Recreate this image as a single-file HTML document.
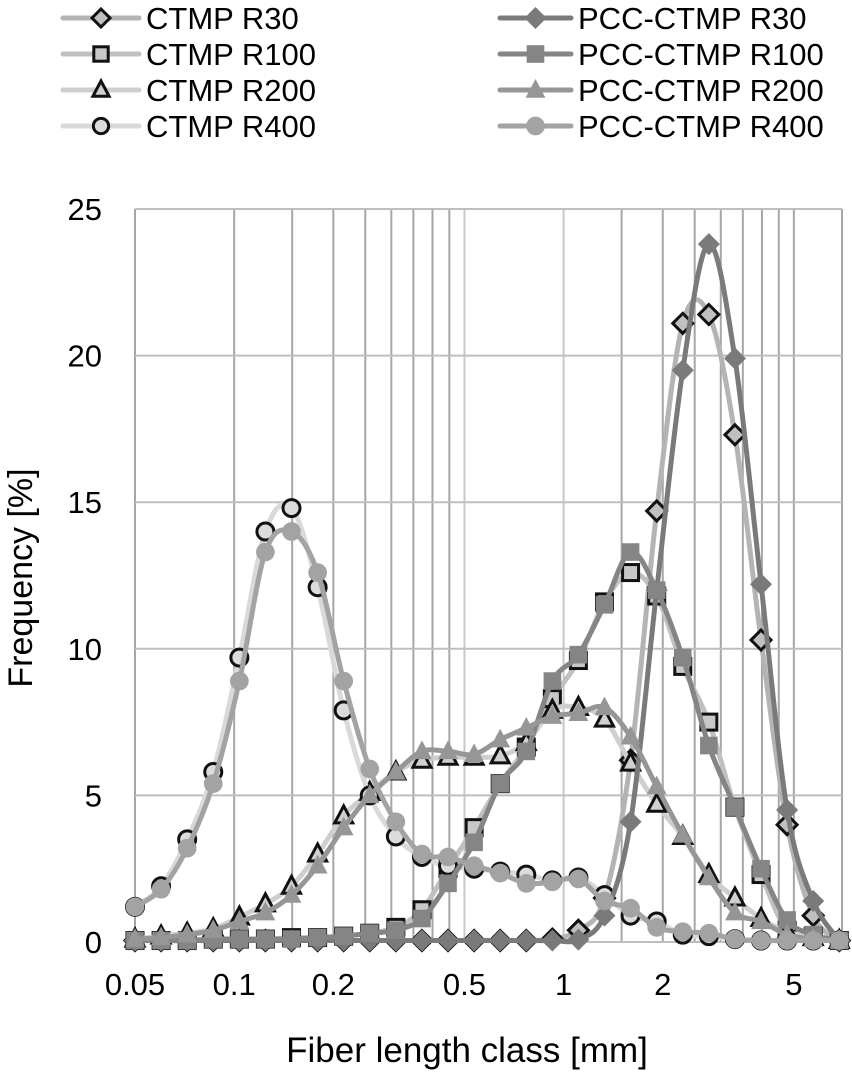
<!DOCTYPE html>
<html><head><meta charset="utf-8"><style>
html,body{margin:0;padding:0;background:#fff;}
svg{display:block;font-family:"Liberation Sans",Arial,sans-serif;}
</style></head><body>
<svg id="chart" width="852" height="1078" viewBox="0 0 852 1078">
<g id="grid"></g>
<g id="series"></g>
<g id="axes"></g>
<g id="legend"></g>
</svg>
<script>
const categories=[0.05,0.06,0.072,0.0864,0.1037,0.1244,0.1493,0.1792,0.215,0.258,0.3096,0.3715,0.4458,0.535,0.642,0.7704,0.9245,1.109,1.331,1.597,1.917,2.3,2.76,3.312,3.975,4.77,5.724,6.868];
const ctmpR30=[0.05,0.05,0.05,0.05,0.05,0.05,0.05,0.05,0.05,0.05,0.05,0.05,0.05,0.05,0.05,0.05,0.1,0.4,1.5,6.2,14.7,21.1,21.4,17.3,10.3,4.0,0.9,0.05];
const pccR30=[0.05,0.05,0.05,0.05,0.05,0.05,0.05,0.05,0.05,0.05,0.05,0.05,0.05,0.05,0.05,0.05,0.05,0.08,0.9,4.1,12.0,19.5,23.8,19.9,12.2,4.5,1.4,0.05];
const ctmpR100=[0.05,0.05,0.05,0.1,0.1,0.1,0.15,0.15,0.2,0.3,0.5,1.1,2.5,3.9,5.4,6.65,8.3,9.6,11.6,12.6,11.8,9.4,7.5,4.6,2.3,0.4,0.2,0.05];
const pccR100=[0.05,0.05,0.05,0.1,0.1,0.1,0.1,0.15,0.2,0.3,0.4,0.8,2.0,3.4,5.4,6.5,8.9,9.8,11.5,13.3,12.0,9.7,6.7,4.6,2.5,0.75,0.25,0.05];
const ctmpR200=[0.1,0.2,0.3,0.45,0.85,1.3,1.9,3.0,4.3,5.1,5.8,6.2,6.3,6.3,6.35,6.8,7.9,8.0,7.6,6.1,4.7,3.6,2.3,1.5,0.8,0.35,0.15,0.05];
const pccR200=[0.1,0.15,0.25,0.4,0.7,1.0,1.6,2.6,3.9,5.0,5.8,6.5,6.5,6.4,6.9,7.3,7.7,7.8,8.0,7.0,5.3,3.65,2.2,1.0,0.7,0.25,0.1,0.05];
const ctmpR400=[1.2,1.9,3.5,5.8,9.7,14.0,14.8,12.1,7.9,5.0,3.6,2.9,2.6,2.5,2.4,2.3,2.1,2.2,1.6,0.9,0.7,0.25,0.2,0.1,0.05,0.05,0.05,0.05];
const pccR400=[1.2,1.8,3.2,5.4,8.9,13.3,14.0,12.6,8.9,5.9,4.1,3.0,2.9,2.6,2.35,2.0,2.05,2.15,1.4,1.15,0.5,0.35,0.3,0.1,0.05,0.05,0.05,0.05];
const yTicks=[0,5,10,15,20,25];
const xTickLabels=[0.05,0.1,0.2,0.5,1,2,5];
const xGridValues=[0.05,0.1,0.15,0.2,0.25,0.3,0.35,0.4,0.45,0.5,1,1.5,2,2.5,3,3.5,4,4.5,5,7];
const seriesNames=["CTMP R30","CTMP R100","CTMP R200","CTMP R400","PCC-CTMP R30","PCC-CTMP R100","PCC-CTMP R200","PCC-CTMP R400"];

const NS="http://www.w3.org/2000/svg";
const L=135,R=842,T=209,B=942,XMIN=0.05,XMAX=7,YMAX=25;
function xs(v){return L+(R-L)*Math.log10(v/XMIN)/Math.log10(XMAX/XMIN);}
function ys(v){return B-(B-T)*v/YMAX;}
function mk(tag,attrs,parent){const e=document.createElementNS(NS,tag);for(const k in attrs)e.setAttribute(k,attrs[k]);parent.appendChild(e);return e;}

const grid=document.getElementById('grid');
xGridValues.forEach(v=>{
  const l=mk('line',{x1:xs(v),x2:xs(v),y1:T,y2:B,stroke:(v===0.5||v===1)?'#c8c8c8':'#a6a6a6','stroke-width':2},grid);
  
  
});
yTicks.forEach(v=>{
  const l=mk('line',{x1:L,x2:R,y1:ys(v),y2:ys(v),stroke:'#bfbfbf','stroke-width':2},grid);
  
  
});

const axes=document.getElementById('axes');
yTicks.forEach(v=>{
  const t=mk('text',{x:102,y:ys(v)+11,'text-anchor':'end','font-size':31,fill:'#000'},axes);
  t.textContent=v;
  
  
});
xTickLabels.forEach(v=>{
  const t=mk('text',{x:xs(v),y:995,'text-anchor':'middle','font-size':31,fill:'#000'},axes);
  t.textContent=v;
  
  
});
const xt=mk('text',{x:467,y:1062,'text-anchor':'middle','font-size':35,fill:'#000'},axes);
xt.textContent='Fiber length class [mm]';


const yt=mk('text',{x:0,y:0,'text-anchor':'middle','font-size':34,fill:'#000',transform:'translate(32,578) rotate(-90)'},axes);
yt.textContent='Frequency [%]';



function smoothPath(pts){
  let d='M'+pts[0][0]+','+pts[0][1];
  for(let i=0;i<pts.length-1;i++){
    const p0=pts[Math.max(0,i-1)],p1=pts[i],p2=pts[i+1],p3=pts[Math.min(pts.length-1,i+2)];
    const t=1/6;
    const c1=[p1[0]+(p2[0]-p0[0])*t,p1[1]+(p2[1]-p0[1])*t];
    const c2=[p2[0]-(p3[0]-p1[0])*t,p2[1]-(p3[1]-p1[1])*t];
    d+=' C'+c1[0]+','+c1[1]+' '+c2[0]+','+c2[1]+' '+p2[0]+','+p2[1];
  }
  return d;
}
function marker(g,shape,x,y,fill,stroke,s){
  let e;
  const sw=stroke==='none'?0:3;
  if(shape==='diamond')e=mk('polygon',{points:`${x},${y-s} ${x+s},${y} ${x},${y+s} ${x-s},${y}`,fill,stroke,'stroke-width':sw},g);
  else if(shape==='square')e=mk('rect',{x:x-s*0.8,y:y-s*0.8,width:s*1.6,height:s*1.6,fill,stroke,'stroke-width':sw},g);
  else if(shape==='triangle')e=mk('polygon',{points:`${x},${y-s} ${x+s*0.9},${y+s*0.7} ${x-s*0.9},${y+s*0.7}`,fill,stroke,'stroke-width':sw},g);
  else e=mk('circle',{cx:x,cy:y,r:s*0.85,fill,stroke,'stroke-width':sw},g);
  return e;
}
const styles=[
 {data:ctmpR30,line:'#b4b4b4',shape:'diamond',fill:'#c0c0c0',stroke:'#111'},
 {data:ctmpR100,line:'#c0c0c0',shape:'square',fill:'#c8c8c8',stroke:'#111'},
 {data:ctmpR200,line:'#cfcfcf',shape:'triangle',fill:'#d0d0d0',stroke:'#111'},
 {data:ctmpR400,line:'#d9d9d9',shape:'circle',fill:'#dcdcdc',stroke:'#111'},
 {data:pccR30,line:'#7a7a7a',shape:'diamond',fill:'#7a7a7a',stroke:'none'},
 {data:pccR100,line:'#858585',shape:'square',fill:'#858585',stroke:'none'},
 {data:pccR200,line:'#969696',shape:'triangle',fill:'#969696',stroke:'none'},
 {data:pccR400,line:'#a3a3a3',shape:'circle',fill:'#a3a3a3',stroke:'none'}
];
const sg=document.getElementById('series');
styles.forEach((st,si)=>{
  const g=mk('g',{},sg);
  
  
  const pts=st.data.map((v,i)=>[xs(categories[i]),ys(v)]);
  const p=mk('path',{d:smoothPath(pts),fill:'none',stroke:st.line,'stroke-width':5,'stroke-linejoin':'round'},g);
  
  
  pts.forEach(pt=>{
    const m=marker(g,st.shape,pt[0],pt[1],st.fill,st.stroke,st.stroke==='none'?11:10);
    
    
  });
});

const lg=document.getElementById('legend');
styles.forEach((st,i)=>{
  const col=i<4?0:1,row=i%4;
  const lx=col===0?63:500,tx=col===0?146:578,yy=18+row*36;
  const g=mk('g',{},lg);
  
  
  mk('line',{x1:lx,x2:tx-7,y1:yy,y2:yy,stroke:st.line,'stroke-width':5,'stroke-linecap':'round'},g);
  marker(g,st.shape,(lx+tx-7)/2,yy,st.fill,st.stroke,st.stroke==='none'?11:9);
  const t=mk('text',{x:tx,y:yy+11,'font-size':31,fill:'#000'},g);
  t.textContent=seriesNames[i];
});
</script>
</body></html>
